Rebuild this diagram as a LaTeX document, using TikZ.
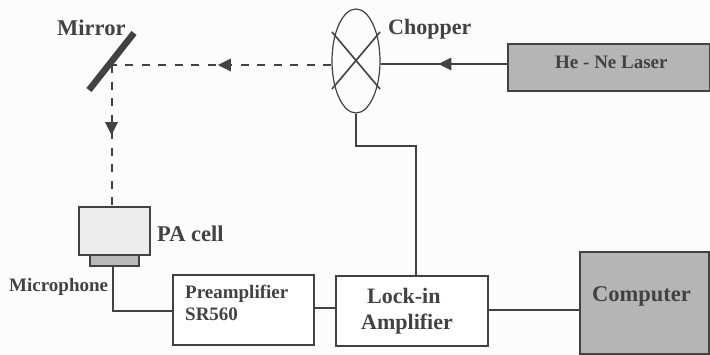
\documentclass[tikz,border=0pt]{standalone}
\usepackage{fontspec}
\setmainfont{Liberation Serif}
\usetikzlibrary{shapes.geometric,arrows.meta,decorations.markings,calc}
\definecolor{ink}{gray}{0.26}
\tikzset{
  x=1pt,y=-1pt,
  boxn/.style={draw=ink,line width=1.5pt,rectangle,inner sep=0pt,anchor=north west},
  lab/.style={text=ink,font=\bfseries,inner sep=0pt,anchor=base west},
  wire/.style={draw=ink,line width=2.1pt},
  beamw/.style={draw=ink,line width=1.3pt},
  dbeam/.style={draw=ink,line width=2pt,dash pattern=on 8pt off 8.5pt},
  headat/.style={postaction={decorate,decoration={markings,mark=at position #1 with {\fill[ink] (8pt,0) -- (-5pt,6.5pt) -- (-5pt,-6.5pt) -- cycle;}}}}
}
\newcommand{\fs}[1]{\fontsize{#1}{#1}\selectfont}
\begin{document}
\begin{tikzpicture}
\useasboundingbox (0,0) rectangle (710,354);
\fill[gray!2] (0,0) rectangle (710,354);
% mirror
\coordinate (mirrorA) at (89,90);
\coordinate (mirrorB) at (134,33);
\coordinate (hit) at (111.5,65);
\draw[ink,line width=6.5pt] (mirrorA) -- (mirrorB);
% nodes
\node[draw=ink,line width=1.2pt,ellipse,minimum width=48pt,minimum height=104pt,inner sep=0pt] (chopper) at (356,61) {};
\coordinate (cA) at (332,32); \coordinate (cB) at (380,89);
\coordinate (cC) at (380,32); \coordinate (cD) at (332,89);
\draw[ink,line width=1.6pt] (cA) -- (cB) (cC) -- (cD);
\node[boxn,fill=gray!58,minimum width=202pt,minimum height=47pt] (laser) at (507,43) {};
\node[boxn,fill=gray!58,minimum width=129pt,minimum height=102pt] (computer) at (579,251) {};
\node[boxn,fill=gray!15,minimum width=71pt,minimum height=48pt] (pacell) at (78,206) {};
\node[boxn,fill=gray!55,minimum width=49pt,minimum height=11pt] (mic) at (89,254) {};
\node[boxn,fill=white,minimum width=141pt,minimum height=70pt] (pre) at (172,274) {};
\node[boxn,fill=white,minimum width=152pt,minimum height=70pt] (lock) at (335,275) {};
% beams
\coordinate (laserL) at (laser.west |- 0,64);
\coordinate (chopR) at (chopper.east |- 0,64);
\coordinate (chopL) at (chopper.west |- 0,65);
\draw[beamw,headat=0.48] (laserL) -- (chopR);
\draw[dbeam,headat=0.48] (chopL) -- (hit);
\draw[dbeam,headat=0.44] (hit) -- (pacell.north -| hit);
% wires
\coordinate (j1) at ($(chopper.south)+(0,32)$);
\coordinate (lockTop) at (416,275);
\draw[wire] (chopper.south) -- (j1) -| (lockTop);
\coordinate (micB) at (113,265);
\coordinate (preL) at (172,311);
\draw[wire] (micB) |- (preL);
\coordinate (preR) at (313,308);
\coordinate (lockL) at (335,308);
\draw[wire] (preR) -- (lockL);
\coordinate (lockR) at (487,310);
\coordinate (compL) at (579,310);
\draw[wire] (lockR) -- (compL);
% labels
\node[lab,font=\fs{22.5}\bfseries] (tmirror) at (57,35) {Mirror};
\node[lab,font=\fs{22}\bfseries] (tchopper) at (388,34) {Chopper};
\node[lab,font=\fs{19}\bfseries] (tlaser) at (555,68) {He - Ne Laser};
\node[lab,font=\fs{22.5}\bfseries] (tpa) at (157,241) {PA cell};
\node[lab,font=\fs{19}\bfseries] (tmic) at (9,291) {Microphone};
\node[lab,font=\fs{19}\bfseries] (tpre) at (185,298) {Preamplifier};
\node[lab,font=\fs{19}\bfseries] (tsr) at (185,320) {SR560};
\node[lab,font=\fs{22}\bfseries] (tlock) at (367,303) {Lock-in};
\node[lab,font=\fs{22}\bfseries] (tamp) at (361,329) {Amplifier};
\node[lab,font=\fs{22.5}\bfseries] (tcomp) at (592,301) {Computer};
\end{tikzpicture}
\end{document}
